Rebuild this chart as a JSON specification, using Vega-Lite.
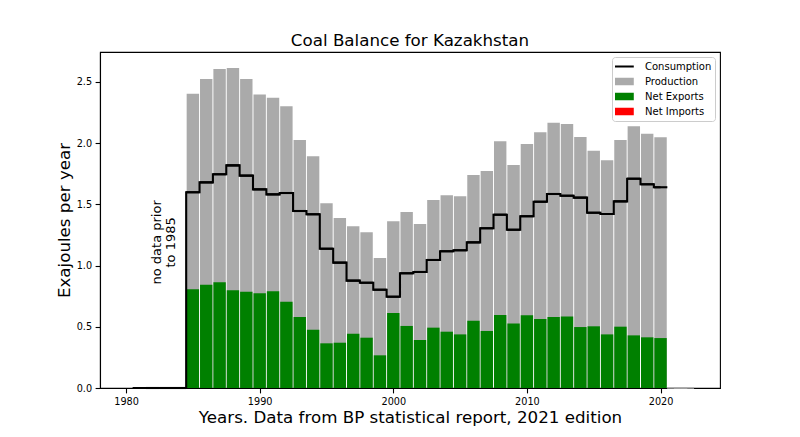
{
  "$schema": "https://vega.github.io/schema/vega-lite/v6.json",
  "width": 620,
  "height": 336,
  "autosize": "none",
  "padding": {"left": 100, "top": 52, "right": 80, "bottom": 49},
  "background": "white",
  "title": {"text": "Coal Balance for Kazakhstan", "fontSize": 16.7, "font": "DejaVu Sans", "fontWeight": "normal", "anchor": "middle", "baseline": "alphabetic", "offset": -11, "color": "black"},
  "config": {
    "font": "DejaVu Sans",
    "view": {"stroke": "black", "strokeWidth": 1.1},
    "axis": {"grid": false, "labelFont": "DejaVu Sans", "labelFontSize": 9.7, "labelColor": "black", "tickColor": "black", "tickSize": 4.9, "tickWidth": 1.1, "domainColor": "black", "domainWidth": 1.1, "labelPadding": 3.5, "titleFont": "DejaVu Sans", "titleFontSize": 16.7, "titleFontWeight": "normal", "titleColor": "black"}
  },
  "datasets": {
    "kz": [
      {"year": 1981, "production": 0, "exports": 0, "consumption": 0},
      {"year": 1982, "production": 0, "exports": 0, "consumption": 0},
      {"year": 1983, "production": 0, "exports": 0, "consumption": 0},
      {"year": 1984, "production": 0, "exports": 0, "consumption": 0},
      {"year": 1985, "production": 2.404, "exports": 0.806, "consumption": 1.599},
      {"year": 1986, "production": 2.524, "exports": 0.844, "consumption": 1.680},
      {"year": 1987, "production": 2.606, "exports": 0.863, "consumption": 1.746},
      {"year": 1988, "production": 2.614, "exports": 0.798, "consumption": 1.819},
      {"year": 1989, "production": 2.524, "exports": 0.787, "consumption": 1.735},
      {"year": 1990, "production": 2.397, "exports": 0.774, "consumption": 1.623},
      {"year": 1991, "production": 2.372, "exports": 0.790, "consumption": 1.582},
      {"year": 1992, "production": 2.301, "exports": 0.705, "consumption": 1.593},
      {"year": 1993, "production": 2.026, "exports": 0.580, "consumption": 1.446},
      {"year": 1994, "production": 1.893, "exports": 0.476, "consumption": 1.419},
      {"year": 1995, "production": 1.509, "exports": 0.365, "consumption": 1.138},
      {"year": 1996, "production": 1.389, "exports": 0.370, "consumption": 1.024},
      {"year": 1997, "production": 1.321, "exports": 0.444, "consumption": 0.877},
      {"year": 1998, "production": 1.272, "exports": 0.411, "consumption": 0.860},
      {"year": 1999, "production": 1.062, "exports": 0.267, "consumption": 0.803},
      {"year": 2000, "production": 1.362, "exports": 0.613, "consumption": 0.746},
      {"year": 2001, "production": 1.438, "exports": 0.507, "consumption": 0.937},
      {"year": 2002, "production": 1.340, "exports": 0.392, "consumption": 0.948},
      {"year": 2003, "production": 1.536, "exports": 0.493, "consumption": 1.046},
      {"year": 2004, "production": 1.574, "exports": 0.460, "consumption": 1.117},
      {"year": 2005, "production": 1.566, "exports": 0.438, "consumption": 1.125},
      {"year": 2006, "production": 1.740, "exports": 0.550, "consumption": 1.190},
      {"year": 2007, "production": 1.773, "exports": 0.466, "consumption": 1.305},
      {"year": 2008, "production": 2.015, "exports": 0.596, "consumption": 1.416},
      {"year": 2009, "production": 1.822, "exports": 0.526, "consumption": 1.293},
      {"year": 2010, "production": 1.993, "exports": 0.594, "consumption": 1.403},
      {"year": 2011, "production": 2.089, "exports": 0.564, "consumption": 1.522},
      {"year": 2012, "production": 2.168, "exports": 0.580, "consumption": 1.585},
      {"year": 2013, "production": 2.157, "exports": 0.585, "consumption": 1.571},
      {"year": 2014, "production": 2.051, "exports": 0.498, "consumption": 1.555},
      {"year": 2015, "production": 1.939, "exports": 0.504, "consumption": 1.432},
      {"year": 2016, "production": 1.860, "exports": 0.438, "consumption": 1.422},
      {"year": 2017, "production": 2.026, "exports": 0.501, "consumption": 1.525},
      {"year": 2018, "production": 2.138, "exports": 0.430, "consumption": 1.710},
      {"year": 2019, "production": 2.078, "exports": 0.414, "consumption": 1.664},
      {"year": 2020, "production": 2.048, "exports": 0.408, "consumption": 1.640}
    ],
    "tail": [
      {"year": 2021, "value": 0},
      {"year": 2022, "value": 0}
    ],
    "note": [
      {"year": 1982.3, "value": 1.19, "label": ["no data prior", "to 1985"]}
    ]
  },
  "data": {"name": "kz"},
  "layer": [
    {
      "mark": {"type": "bar", "width": 12.4},
      "encoding": {
        "x": {"field": "year", "type": "quantitative", "scale": {"domain": [1978.425, 2024.075], "nice": false, "zero": false},
              "axis": {"values": [1980, 1990, 2000, 2010, 2020], "format": "d", "title": "Years. Data from BP statistical report, 2021 edition", "titlePadding": 3}},
        "y": {"field": "production", "type": "quantitative", "stack": null, "scale": {"domain": [0, 2.745], "nice": false},
              "axis": {"values": [0, 0.5, 1, 1.5, 2, 2.5], "format": ".1f", "title": "Exajoules per year", "titlePadding": 3}},
        "color": {"datum": "Production", "type": "nominal",
                  "scale": {"domain": ["Consumption", "Production", "Net Exports", "Net Imports"], "range": ["black", "#aaaaaa", "#008000", "#ff0000"]},
                  "legend": {"title": null, "orient": "none", "legendX": 512, "legendY": 5, "fillColor": "white", "strokeColor": "#cccccc", "cornerRadius": 3, "padding": 3,
                             "symbolSize": 760, "clipHeight": 13, "rowPadding": 2, "labelFont": "DejaVu Sans", "labelFontSize": 10, "labelColor": "black", "labelOffset": 20,
                             "symbolStrokeColor": "black", "symbolOpacity": 1,
                             "symbolType": {"expr": "datum.value === 'Consumption' ? 'stroke' : 'M-1,-0.27H1V0.27H-1Z'"},
                             "symbolStrokeWidth": {"expr": "datum.value === 'Consumption' ? 2.1 : 0"}}}
      }
    },
    {
      "mark": {"type": "bar", "width": 12.4},
      "encoding": {
        "x": {"field": "year", "type": "quantitative"},
        "y": {"field": "exports", "type": "quantitative", "stack": null},
        "color": {"datum": "Net Exports", "type": "nominal"}
      }
    },
    {
      "mark": {"type": "line", "interpolate": "step", "color": "black", "strokeWidth": 2.1},
      "encoding": {
        "x": {"field": "year", "type": "quantitative"},
        "y": {"field": "consumption", "type": "quantitative"}
      }
    },
    {
      "mark": {"type": "tick", "orient": "horizontal", "size": 13.58, "thickness": 2.1, "color": "black", "opacity": 1},
      "encoding": {
        "x": {"field": "year", "type": "quantitative"},
        "y": {"field": "consumption", "type": "quantitative"}
      }
    },
    {
      "data": {"name": "tail"},
      "mark": {"type": "tick", "orient": "horizontal", "size": 13.58, "thickness": 1.5, "color": "#aaaaaa", "opacity": 1},
      "encoding": {
        "x": {"field": "year", "type": "quantitative"},
        "y": {"field": "value", "type": "quantitative"}
      }
    },
    {
      "data": {"name": "tail"},
      "mark": {"type": "line", "color": "#aaaaaa", "strokeWidth": 1.5},
      "encoding": {
        "x": {"field": "year", "type": "quantitative"},
        "y": {"field": "value", "type": "quantitative"}
      }
    },
    {
      "data": {"name": "note"},
      "mark": {"type": "text", "angle": 270, "align": "center", "baseline": "middle", "fontSize": 13, "lineHeight": 14, "font": "DejaVu Sans", "color": "black"},
      "encoding": {
        "x": {"field": "year", "type": "quantitative"},
        "y": {"field": "value", "type": "quantitative"},
        "text": {"field": "label"}
      }
    }
  ]
}
